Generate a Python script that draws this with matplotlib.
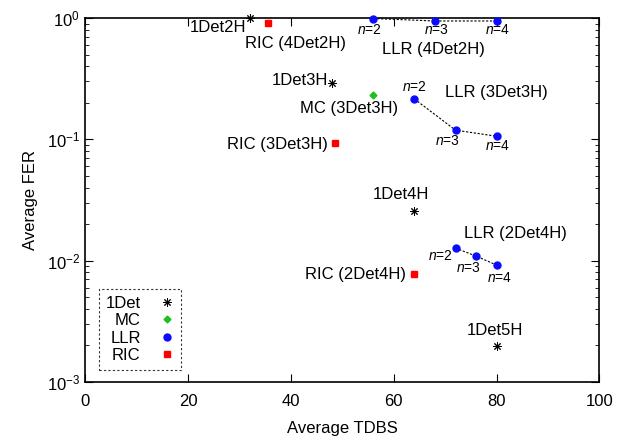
import matplotlib
matplotlib.use("Agg")
import matplotlib.pyplot as plt

plt.rcParams["font.family"] = ["Liberation Sans", "DejaVu Sans"]
plt.rcParams["mathtext.fontset"] = "custom"
plt.rcParams["mathtext.it"] = "Liberation Sans:italic"
plt.rcParams["mathtext.rm"] = "Liberation Sans"

# 1Det points
det_x = [32, 48, 64, 80]
det_y = [1.0, 0.291, 0.0256, 0.00198]

# MC point
mc_x = [56]
mc_y = [0.232]

# LLR series (n = 2, 3, 4)
llr_4det2h_x = [56, 68, 80]
llr_4det2h_y = [0.99, 0.945, 0.945]
llr_3det3h_x = [64, 72, 80]
llr_3det3h_y = [0.215, 0.119, 0.106]
llr_2det4h_x = [72, 76, 80]
llr_2det4h_y = [0.0127, 0.0109, 0.0092]

# RIC points
ric_x = [35.5, 48.5, 64]
ric_y = [0.909, 0.093, 0.00776]

# text labels: (text, x, y)
labels = [
    ("1Det2H", 25.8, 0.827),
    ("RIC (4Det2H)", 40.8, 0.622),
    ("LLR (4Det2H)", 67.7, 0.555),
    ("1Det3H", 41.8, 0.308),
    ("MC (3Det3H)", 51.3, 0.181),
    ("LLR (3Det3H)", 79.9, 0.241),
    ("RIC (3Det3H)", 37.3, 0.0915),
    ("1Det4H", 61.4, 0.0354),
    ("LLR (2Det4H)", 83.6, 0.0169),
    ("RIC (2Det4H)", 52.5, 0.00776),
    ("1Det5H", 79.7, 0.00268),
]
n_labels = [
    ("2", 55.2, 0.796), ("3", 68.3, 0.796), ("4", 80.1, 0.796),
    ("2", 64.0, 0.270), ("3", 70.4, 0.0968), ("4", 80.1, 0.0881),
    ("2", 69.0, 0.0109), ("3", 74.5, 0.00869), ("4", 80.5, 0.00719),
]

fig = plt.figure(figsize=(6.35, 4.43), dpi=100)
ax = fig.add_axes([0.1346, 0.1377, 0.8094, 0.8217])

for xs, ys in [(llr_4det2h_x, llr_4det2h_y), (llr_3det3h_x, llr_3det3h_y),
               (llr_2det4h_x, llr_2det4h_y)]:
    ax.plot(xs, ys, color="black", linestyle=(0, (2, 1.5)), linewidth=0.8, zorder=2)

ax.plot(det_x, det_y, linestyle="none", marker=(8, 2, 0), markersize=6,
        color="black", markeredgewidth=0.7, label="1Det", clip_on=False, zorder=3)
ax.plot(mc_x, mc_y, linestyle="none", marker="D", markersize=3.5,
        color="#1fbf1f", label="MC", zorder=3)
llr_x = llr_4det2h_x + llr_3det3h_x + llr_2det4h_x
llr_y = llr_4det2h_y + llr_3det3h_y + llr_2det4h_y
ax.plot(llr_x, llr_y, linestyle="none", marker="o", markersize=5,
        color="#0a0aff", label="LLR", clip_on=False, zorder=3)
ax.plot(ric_x, ric_y, linestyle="none", marker="s", markersize=5,
        color="#ff0000", label="RIC", zorder=3)

for txt, x, y in labels:
    ax.text(x, y, txt, ha="center", va="center", fontsize=12)
for n, x, y in n_labels:
    ax.text(x, y, r"$n$=" + n, ha="center", va="center", fontsize=10)

ax.set_yscale("log")
ax.set_xlim(0, 100)
ax.set_ylim(1e-3, 1)
ax.set_xticks([0, 20, 40, 60, 80, 100])
ax.set_xlabel("Average TDBS", fontsize=12, labelpad=8)
ax.set_ylabel("Average FER", fontsize=12, labelpad=6)
ax.tick_params(which="both", direction="in", top=True, right=True, labelsize=12)
ax.tick_params(axis="x", pad=9)
ax.tick_params(axis="y", pad=4)
ax.tick_params(which="major", length=6)
ax.tick_params(which="minor", length=3)
for s in ax.spines.values():
    s.set_linewidth(1.2)

leg = ax.legend(loc="lower left", bbox_to_anchor=(0.026, 0.033), borderaxespad=0,
                markerfirst=False, fancybox=False, fontsize=12, handlelength=0.8,
                labelspacing=0.15, borderpad=0.4, handletextpad=1.2)
leg.get_frame().set_edgecolor("black")
leg.get_frame().set_linestyle((0, (2, 2)))
leg.get_frame().set_linewidth(0.8)

fig.savefig("out.png", dpi=100)
